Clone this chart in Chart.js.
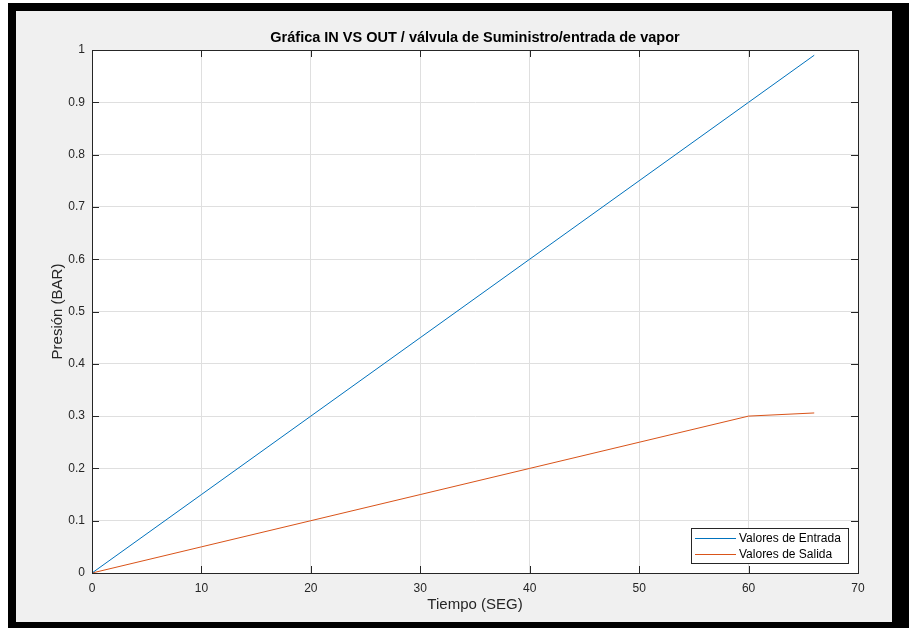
<!DOCTYPE html>
<html>
<head>
<meta charset="utf-8">
<script src="https://cdn.jsdelivr.net/npm/chart.js@4"></script>
<style>
  html, body { margin: 0; padding: 0; background: #ffffff; }
  #wrap { width: 909px; height: 628px; position: relative; }
</style>
</head>
<body>
<div id="wrap"><canvas id="c" width="909" height="628"></canvas></div>
<script>
const chartTitle = 'Gráfica IN VS OUT / válvula de Suministro/entrada de vapor';
const xLabel = 'Tiempo (SEG)';
const yLabel = 'Presión (BAR)';
const seriesNames = ['Valores de Entrada', 'Valores de Salida'];
const tiempo = [0, 10, 20, 30, 40, 50, 60, 66];
const entrada = [0, 0.15, 0.30, 0.45, 0.60, 0.75, 0.90, 0.99];
const salida = [0, 0.05, 0.10, 0.15, 0.20, 0.25, 0.30, 0.306];
const xTicks = [0, 10, 20, 30, 40, 50, 60, 70];
const yTicks = [0, 0.1, 0.2, 0.3, 0.4, 0.5, 0.6, 0.7, 0.8, 0.9, 1];
const yTickLabels = ['0', '0.1', '0.2', '0.3', '0.4', '0.5', '0.6', '0.7', '0.8', '0.9', '1'];
const colors = ['#0072BD', '#D95319'];

const AXIS = '#262626';
const FONT = '"Liberation Sans", Arial, Helvetica, sans-serif';

const framePlugin = {
  id: 'frame',
  beforeDraw(chart) {
    const ctx = chart.ctx;
    const W = chart.width, H = chart.height;
    ctx.save();
    ctx.fillStyle = '#ffffff';
    ctx.fillRect(0, 0, W, H);
    ctx.fillStyle = '#000000';
    ctx.fillRect(8, 3, W - 8, H - 3);
    ctx.fillStyle = '#f0f0f0';
    ctx.fillRect(16, 11, 892 - 16, 622 - 11);
    const a = chart.chartArea;
    ctx.fillStyle = '#ffffff';
    ctx.fillRect(a.left, a.top, a.right - a.left, a.bottom - a.top);
    ctx.restore();
  },
  afterDraw(chart) {
    const ctx = chart.ctx;
    const a = chart.chartArea;
    const xs = chart.scales.x, ys = chart.scales.y;
    ctx.save();
    ctx.strokeStyle = AXIS;
    ctx.lineWidth = 1;
    const tl = 7;
    ctx.beginPath();
    xTicks.forEach(v => {
      const px = Math.round(xs.getPixelForValue(v)) + 0.5;
      ctx.moveTo(px, a.bottom); ctx.lineTo(px, a.bottom - tl);
      ctx.moveTo(px, a.top); ctx.lineTo(px, a.top + tl);
    });
    yTicks.forEach(v => {
      const py = Math.round(ys.getPixelForValue(v)) + 0.5;
      ctx.moveTo(a.left, py); ctx.lineTo(a.left + tl, py);
      ctx.moveTo(a.right, py); ctx.lineTo(a.right - tl, py);
    });
    ctx.stroke();
    ctx.strokeRect(Math.round(a.left) + 0.5, Math.round(a.top) + 0.5,
      Math.round(a.right - a.left), Math.round(a.bottom - a.top));

    ctx.fillStyle = '#000000';
    ctx.font = 'bold 14.5px ' + FONT;
    ctx.textAlign = 'center';
    ctx.textBaseline = 'middle';
    ctx.fillText(chartTitle, (a.left + a.right) / 2, 38);

    const lw = 157, lh = 35;
    const lx = a.right - 10 - lw, ly = a.bottom - 10 - lh;
    ctx.fillStyle = '#ffffff';
    ctx.fillRect(lx, ly, lw, lh);
    ctx.strokeStyle = AXIS;
    ctx.lineWidth = 1;
    ctx.strokeRect(Math.round(lx) + 0.5, Math.round(ly) + 0.5, lw, lh);
    ctx.font = '12px ' + FONT;
    ctx.textAlign = 'left';
    ctx.textBaseline = 'middle';
    chart.data.datasets.forEach((ds, i) => {
      const yy = ly + 10 + i * 16;
      ctx.strokeStyle = ds.borderColor;
      ctx.beginPath();
      ctx.moveTo(lx + 4, yy + 0.5);
      ctx.lineTo(lx + 45, yy + 0.5);
      ctx.stroke();
      ctx.fillStyle = '#000000';
      ctx.fillText(ds.label, lx + 48, yy + 1);
    });
    ctx.restore();
  }
};

const datasets = [entrada, salida].map((vals, i) => ({
  label: seriesNames[i],
  data: tiempo.map((t, j) => ({ x: t, y: vals[j] })),
  borderColor: colors[i],
  backgroundColor: colors[i],
  borderWidth: 1,
  pointRadius: 0,
  tension: 0,
  fill: false
}));

new Chart(document.getElementById('c'), {
  type: 'line',
  data: { datasets },
  plugins: [framePlugin],
  options: {
    responsive: false,
    animation: false,
    events: [],
    layout: { padding: { left: 16, right: 51, top: 50, bottom: 0 } },
    plugins: {
      legend: { display: false },
      title: { display: false },
      tooltip: { enabled: false }
    },
    scales: {
      x: {
        type: 'linear',
        min: 0, max: 70,
        afterBuildTicks(scale) { scale.ticks = xTicks.map(v => ({ value: v })); },
        afterFit(scale) { scale.height = 55; },
        ticks: {
          color: AXIS, font: { family: FONT, size: 12 }, padding: 8,
          maxRotation: 0, autoSkip: false,
          callback: (v) => String(v)
        },
        grid: { color: '#dfdfdf', drawTicks: false, lineWidth: 1 },
        border: { display: true, color: AXIS, width: 1 },
        title: {
          display: true, text: xLabel, color: AXIS,
          font: { family: FONT, size: 15 }, padding: { top: 0, bottom: 14 }
        }
      },
      y: {
        type: 'linear',
        min: 0, max: 1,
        afterBuildTicks(scale) { scale.ticks = yTicks.map(v => ({ value: v })); },
        afterFit(scale) { scale.width = 76; },
        ticks: {
          color: AXIS, font: { family: FONT, size: 12 }, padding: 7,
          autoSkip: false,
          callback: (v) => { const k = yTicks.findIndex(t => Math.abs(t - v) < 1e-9); return k >= 0 ? yTickLabels[k] : ''; }
        },
        grid: { color: '#dfdfdf', drawTicks: false, lineWidth: 1 },
        border: { display: true, color: AXIS, width: 1 },
        title: {
          display: true, text: yLabel, color: AXIS,
          font: { family: FONT, size: 15 }, padding: { top: 33, bottom: 0 }
        }
      }
    }
  }
});
</script>
</body>
</html>
